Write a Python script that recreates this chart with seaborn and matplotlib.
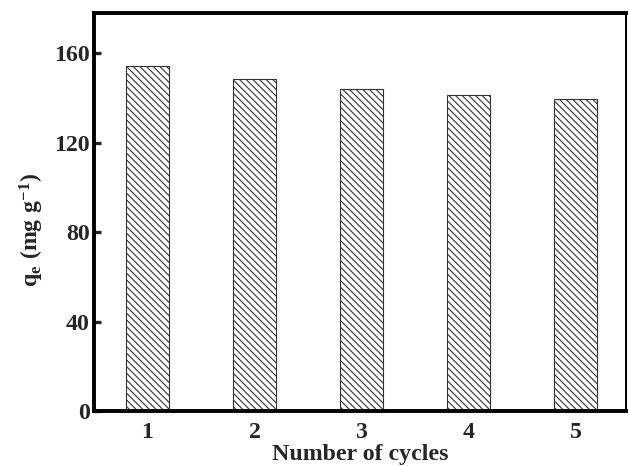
import matplotlib
matplotlib.use("Agg")
import matplotlib.pyplot as plt
import seaborn as sns
import pandas as pd

cycles = ["1", "2", "3", "4", "5"]
qe_values = [154.5, 148.7, 143.8, 141.5, 139.7]
y_ticks = [0, 40, 80, 120, 160]

sns.set_theme(style="ticks")
plt.rcParams["font.family"] = ["Liberation Serif", "DejaVu Serif"]
plt.rcParams["font.weight"] = "bold"
plt.rcParams["mathtext.fontset"] = "custom"
plt.rcParams["mathtext.rm"] = "Liberation Serif:bold"
plt.rcParams["mathtext.it"] = "Liberation Serif:bold"
plt.rcParams["mathtext.bf"] = "Liberation Serif:bold"
plt.rcParams["hatch.linewidth"] = 1.0
plt.rcParams["hatch.color"] = "black"

DPI = 80
fig = plt.figure(figsize=(629 / DPI, 466 / DPI), dpi=DPI)
ax = fig.add_axes([94 / 629, 1 - 411 / 466, (626 - 94) / 629, (411 - 13) / 466])

df = pd.DataFrame({"cycle": cycles, "qe": qe_values})
sns.barplot(data=df, x="cycle", y="qe", ax=ax, width=0.4, color="white",
            edgecolor="#333333", linewidth=1.0, saturation=1)
for p in ax.patches:
    p.set_hatch("\\\\\\\\")
    p.set_facecolor("white")

ax.set_xlim(-0.5, 4.47)
ax.set_ylim(0, 178)
ax.set_yticks(y_ticks)
ax.set_yticklabels([str(t) for t in y_ticks])

for side in ["left", "top", "bottom"]:
    ax.spines[side].set_linewidth(3.5)
    ax.spines[side].set_color("black")
ax.spines["right"].set_linewidth(1.8)
ax.spines["right"].set_color("black")

ax.tick_params(axis="y", direction="in", length=6, width=3, labelsize=21.5, pad=4)
ax.tick_params(axis="x", length=0, labelsize=21.5, pad=9.5)
for lbl in ax.get_xticklabels() + ax.get_yticklabels():
    lbl.set_fontweight("bold")

ax.set_xlabel("Number of cycles", fontsize=21.5, fontweight="bold", labelpad=1.5)
ax.set_ylabel(r"$\mathrm{q_e\ (mg\ g^{-1})}$", fontsize=21.5)
ax.yaxis.set_label_coords(-0.09, 0.455)

fig.savefig("out.png", dpi=DPI)
